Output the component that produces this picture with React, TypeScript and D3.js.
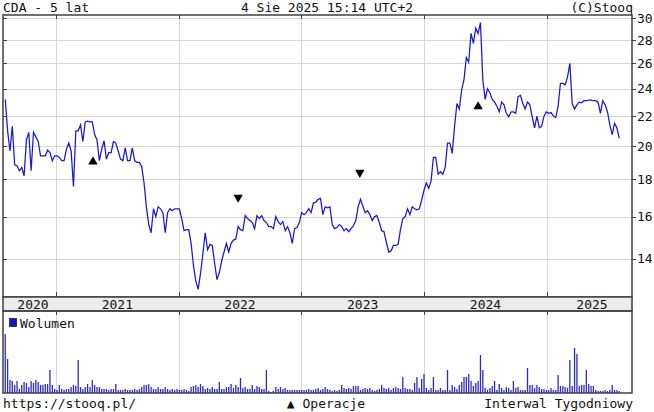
import React from 'react';
import * as d3 from 'd3';

// ---- data ----
const startDate = new Date(2020, 7, 3); // first weekly bar (Mon)

const closes: number[] = [
  23.2, 21.0, 19.7, 21.3, 18.85, 18.8, 18.5, 18.7, 18.2, 20.4,
  20.9, 18.5, 20.9, 20.6, 20.3, 19.4, 19.4, 19.4, 19.75, 19.6,
  19.1, 19.4, 19.4, 19.3, 19.1, 19.1, 19.8, 20.2, 19.7, 17.6,
  21.0, 21.0, 21.4, 20.3, 21.6, 21.65, 21.6, 21.6, 20.75, 20.4,
  19.1, 19.8, 20.35, 19.2, 19.6, 19.6, 20.3, 20.2, 19.7, 19.2,
  19.1, 19.9, 19.1, 19.1, 19.9, 19.1, 19.0, 19.0, 18.75, 17.8,
  16.5, 15.6, 15.2, 16.4, 16.0, 16.5,
  16.4, 16.2, 15.2, 16.2, 16.4, 16.3, 16.4, 16.4, 16.4, 15.9,
  15.3, 15.35, 15.35, 14.7, 13.7, 13.05, 12.7, 13.36, 14.2, 15.2,
  14.4, 14.65, 14.6, 13.8, 13.1, 13.4, 13.9, 14.3, 14.7, 14.3,
  14.7, 14.85, 14.9, 15.5, 15.35, 15.3, 16.05, 15.9, 15.8, 15.7,
  15.4, 16.05, 15.9, 16.05, 15.8, 15.7, 15.5, 15.5, 15.4, 16.0,
  15.75, 15.6, 15.75, 15.3, 15.5, 15.2, 14.7, 15.4, 15.45, 15.7,
  16.2, 16.1, 16.2, 16.4,
  16.2, 16.7, 16.75, 16.9, 16.95, 16.1, 16.5, 16.45, 16.5, 15.6,
  15.4, 15.45, 15.6, 15.5, 15.3, 15.4, 15.25, 15.4, 15.55, 15.8,
  16.5, 16.9, 16.55, 16.2, 16.3, 16.1, 15.8, 16.0, 16.05, 15.7,
  15.3, 15.25, 14.75, 14.3, 14.35, 14.6, 14.6, 14.65, 15.35, 15.9,
  16.0, 16.4, 16.1, 16.5, 16.4, 16.35, 16.4, 16.85, 17.4, 17.8,
  17.5, 17.9, 19.3, 19.3, 18.3, 18.45, 18.3, 18.7,
  20.2, 20.2, 19.55, 21.3, 22.9, 22.5, 23.9, 24.7, 26.5, 26.1,
  28.6, 27.7, 29.1, 28.6, 29.6, 24.7, 23.2, 24.0, 23.7, 23.2,
  23.0, 22.7, 22.3, 23.0, 22.8, 22.2, 21.95, 22.3, 22.3, 22.2,
  23.4, 23.5, 22.9, 22.5, 23.0, 22.8, 21.95, 21.2, 22.0, 21.2,
  21.3, 22.0, 22.3, 22.2, 22.25, 22.0, 21.9, 22.7, 24.4, 24.4,
  24.3, 24.9, 26.0, 22.9, 22.5, 22.8, 23.0, 22.95, 23.1, 23.1,
  23.15, 23.15, 23.1, 23.1, 23.0, 22.2, 23.1, 22.8, 22.3, 21.4,
  20.75, 21.5, 21.2, 20.5,
];

const volumes: number[] = [
  59, 34, 13, 12, 8, 12, 4, 8, 11, 10,
  6, 12, 10, 13, 11, 8, 8, 9, 9,
  23, 8, 4, 3, 8, 4, 3, 4, 4,
  6, 8, 7, 33, 6, 4, 6, 9, 6, 13,
  8, 6, 6, 4, 4, 4, 3, 4, 4, 9,
  3, 3, 3, 4, 3, 3, 3, 4,
  3, 4, 6, 8, 8, 9, 6, 4, 4, 6,
  4, 4, 6, 4, 3, 4, 3, 4,
  3, 3, 4, 3, 2, 6, 7, 8, 6, 9,
  7, 4, 5, 4, 6, 4, 4, 11, 4, 4,
  6, 6, 9, 5, 8, 6, 15, 5, 6,
  4, 4, 8, 4, 7, 6, 4, 4, 23, 2,
  1, 2, 6, 4, 6, 4, 5, 3, 3, 3,
  3, 3, 3, 3, 3, 3, 4, 3, 3, 4,
  5, 3, 4, 6, 4,
  3, 2, 3, 2, 3, 8, 5, 4, 5, 4,
  7, 7, 7, 3, 4, 5, 4, 5, 3, 2,
  3, 4, 8, 5, 4, 5, 3, 5, 6, 5,
  4, 16, 5, 4, 4, 3, 10, 16, 5, 14,
  19, 5, 3, 5, 16, 3, 3, 5, 3, 3,
  23, 3, 8, 6, 4, 8, 11, 16, 16, 19,
  12, 7, 10, 12, 38, 23, 5, 3, 5, 7,
  12, 3, 9, 5, 3, 6, 5, 3, 12, 5,
  6, 3, 3, 3, 25, 8, 8, 5, 8, 6,
  4, 4, 3, 3, 5, 3, 3, 18, 7, 7,
  6, 5, 33, 7, 45, 39, 7, 8, 8, 23,
  9, 7, 7, 3, 2, 2, 2, 3, 2, 3,
  8, 3, 3, 2,
];

const yearLabels = ['2020', '2021', '2022', '2023', '2024', '2025'];
const priceTicks = [14, 16, 18, 20, 22, 24, 26, 28, 30];

const opDates = [new Date(2021, 3, 21), new Date(2022, 5, 27), new Date(2023, 5, 24), new Date(2024, 5, 10)];
const opDirs = ['up', 'down', 'down', 'up'];
const opLevels = [19.04, 17.0, 18.4, 22.67];

const titleLeft = 'CDA - 5 lat';
const titleMid = '4 Sie 2025 15:14 UTC+2';
const titleRight = '(C)Stooq';
const footLeft = 'https://stooq.pl/';
const footMid = '▲ Operacje';
const footRight = 'Interwal Tygodniowy';
const volLabel = 'Wolumen';

// ---- chart ----
const W = 654, H = 412;
const L = 3, R = 632, T = 15, B = 297, BB = 311, VB = 393;
const FONT = '"DejaVu Sans Mono", monospace';
const px = (v: number) => Math.round(v) + 0.5;

export default function App() {
  const x = d3.scaleTime().domain([new Date(2021, 0, 1), new Date(2025, 0, 1)]).range([56, 547]);
  const y = d3.scaleLog().domain([14, 30]).range([258.7, 18.3]);
  const yv = d3.scaleLinear().domain([0, d3.max(volumes) as number]).range([VB, VB - 59]);
  const dates = closes.map((_, i) => d3.timeDay.offset(startDate, 7 * i));
  const pts = closes.map((c, i) => ({ d: dates[i], c }));
  const line = d3.line<{ d: Date; c: number }>().x(p => x(p.d)).y(p => y(p.c));

  const yearStarts = yearLabels.map(s => new Date(+s, 0, 1));
  const bounds = yearStarts.slice(1).map(d => x(d));
  const labelPos = yearLabels.map((s, i) => {
    const a = Math.max(x(yearStarts[i]), 10);
    const b = Math.min(x(new Date(+s + 1, 0, 1)), 637);
    return (a + b) / 2;
  });

  const tri = d3.symbol(d3.symbolTriangle, 38)() as string;
  const frame = '#404040';
  const grid = '#d6d6d6';

  return (
    <svg width={W} height={H} style={{ position: 'absolute', left: 0, top: 0, display: 'block', background: '#fff' }}
      fontFamily={FONT} fontSize={13}>
      <defs>
        <clipPath id="plotClip"><rect x={L} y={T} width={R - L} height={B - T} /></clipPath>
      </defs>
      {/* header */}
      <text x={3} y={12} fill="#111">{titleLeft}</text>
      <text x={327} y={12} textAnchor="middle" fill="#111">{titleMid}</text>
      <text x={633} y={12} textAnchor="end" fill="#111">{titleRight}</text>

      {/* price grid */}
      {priceTicks.map(t => (
        <line key={'h' + t} x1={L} x2={R} y1={px(y(t))} y2={px(y(t))} stroke={grid} strokeWidth={1} />
      ))}
      {bounds.map((b, i) => (
        <g key={'v' + i}>
          <line x1={px(b)} x2={px(b)} y1={T} y2={B} stroke={grid} />
          <line x1={px(b)} x2={px(b)} y1={BB} y2={VB} stroke={grid} />
          <line x1={px(b)} x2={px(b)} y1={T} y2={T + 4} stroke={frame} />
          <line x1={px(b)} x2={px(b)} y1={B - 5} y2={B} stroke={frame} />
          <line x1={px(b)} x2={px(b)} y1={BB} y2={BB + 4} stroke={frame} />
        </g>
      ))}

      {/* price line */}
      <path d={line(pts) as string} fill="none" stroke="#1818d4" strokeWidth={1.25} clipPath="url(#plotClip)" />

      {/* operations */}
      {opDates.map((d, i) => (
        <path key={'op' + i} d={tri}
          transform={`translate(${x(d)},${y(opLevels[i])})${opDirs[i] === 'down' ? ' rotate(180)' : ''}`}
          fill="#000" />
      ))}

      {/* frames */}
      <rect x={L} y={T} width={R - L} height={B - T} fill="none" stroke={frame} strokeWidth={1.5} />
      <rect x={L} y={B} width={R - L} height={BB - B} fill="#ececec" stroke={frame} strokeWidth={1.5} />
      <rect x={L} y={BB} width={R - L} height={VB - BB} fill="none" stroke={frame} strokeWidth={1.5} />

      {/* y ticks and labels */}
      {priceTicks.map(t => (
        <g key={'yl' + t}>
          <line x1={L} x2={L + 4} y1={px(y(t))} y2={px(y(t))} stroke={frame} />
          <line x1={R} x2={R + 4} y1={px(y(t))} y2={px(y(t))} stroke={frame} />
          <text x={637} y={y(t) + 4.5} fill="#111">{t}</text>
        </g>
      ))}

      {/* year labels */}
      {yearLabels.map((s, i) => (
        <text key={s} x={labelPos[i]} y={309} textAnchor="middle" fill="#111">{s}</text>
      ))}

      {/* volume */}
      {volumes.map((v, i) => (
        <rect key={'b' + i} x={x(dates[i]) - 0.65} width={1.3} y={yv(v)} height={VB - yv(v)} fill="#2b2bcc" />
      ))}
      <rect x={9.5} y={318.5} width={7} height={8} fill="#1414c8" stroke="#222" strokeWidth={0.8} />
      <text x={20} y={328} fill="#111">{volLabel}</text>

      {/* footer */}
      <text x={3} y={408} fill="#111">{footLeft}</text>
      <text x={326} y={408} textAnchor="middle" fill="#111">{footMid}</text>
      <text x={633} y={408} textAnchor="end" fill="#111">{footRight}</text>
    </svg>
  );
}
